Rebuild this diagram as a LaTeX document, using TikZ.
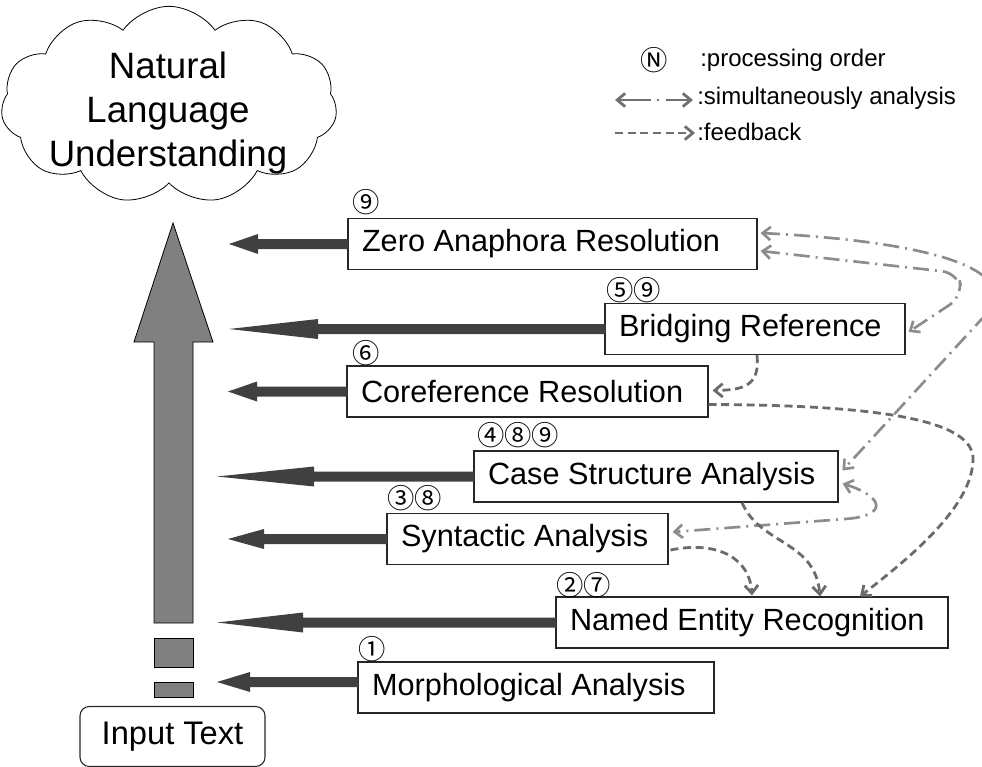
\documentclass[tikz,border=0pt]{standalone}
\usepackage{fontspec}
\setmainfont{Liberation Sans}
\newfontfamily\circf{Noto Sans CJK JP}
\usetikzlibrary{shapes.symbols,arrows.meta,calc}
\definecolor{fatc}{HTML}{404040}
\definecolor{bigc}{HTML}{808080}
\definecolor{ddc}{HTML}{8C8C8C}
\definecolor{fbc}{HTML}{6B6B6B}
\definecolor{lgc}{HTML}{707070}
\newcommand\fatarrow[3]{%
  \fill[fatc] ($(#1.west |- #2)+(1,-5)$) -- ($(#2)+(#3,-5)$) -- ($(#2)+(#3,-10)$) -- (#2)
   -- ($(#2)+(#3,10)$) -- ($(#2)+(#3,5)$) -- ($(#1.west |- #2)+(1,5)$) -- cycle;}
\begin{document}
\begin{tikzpicture}[x=0.75pt,y=-0.75pt,
  procbox/.style={draw=black!85, line width=0.8pt, fill=white, minimum height=38.25pt,
    inner xsep=10.5pt, inner ysep=0pt, font=\fontsize{23}{27}\selectfont},
  ordnum/.style={inner sep=0pt, anchor=west, font=\circf\fontsize{20.5}{22}\selectfont},
  tipb/.tip={Straight Barb[length=6pt,width=10pt]},
  simul/.style={draw=ddc, line width=2pt, dash pattern=on 12pt off 4.5pt on 1.5pt off 4.5pt, tipb-tipb},
  feedb/.style={draw=fbc, line width=2.1pt, dash pattern=on 6pt off 3.5pt, -tipb},
  legtext/.style={anchor=west, inner sep=0pt, font=\fontsize{18}{21}\selectfont},
  bigarrow/.style={fill=bigc, draw=black, line width=0.6pt},
]
\useasboundingbox (0,0) rectangle (982,767);
\clip (0,0) rectangle (982,767);

% cloud
\node[cloud, draw, line width=0.6pt, cloud puffs=11, cloud puff arc=110, aspect=1.69,
  minimum width=252pt, minimum height=148pt, inner sep=0pt] (cl) at (169,105) {};
\node[align=center, inner sep=0pt, font=\fontsize{27.5}{33}\selectfont] (nlu) at (168,113)
  {Natural\\Language\\Understanding};

% big upward arrow
\filldraw[bigarrow] (173,223) -- (213,342) -- (193,342) -- (193,623) -- (154,623) -- (154,342) -- (134,342) -- cycle;
\filldraw[bigarrow] (154,638) rectangle (193,667);
\filldraw[bigarrow] (154,682) rectangle (193,697);

% input text
\node[draw=black!85, line width=0.8pt, rounded corners=7pt, minimum width=138.75pt, minimum height=45pt,
  font=\fontsize{24.5}{28}\selectfont] (in) at (172.5,736.5) {Input Text};

% boxes
\node[procbox] (za) at (552.5,244) {\makebox[285.75pt][l]{Zero Anaphora Resolution}};
\node[procbox] (br) at (755,329) {\makebox[204pt][l]{Bridging Reference}};
\node[procbox] (co) at (527.5,391.5) {\makebox[249.75pt][l]{Coreference Resolution}};
\node[procbox] (ca) at (656,476.5) {\makebox[252pt][l]{Case Structure Analysis}};
\node[procbox] (sy) at (527.5,539) {\makebox[189.75pt][l]{Syntactic Analysis}};
\node[procbox] (ne) at (752,622.5) {\makebox[273pt][l]{Named Entity Recognition}};
\node[procbox] (mo) at (536,687.5) {\makebox[246pt][l]{Morphological Analysis}};

% order numbers
\node[ordnum] (n9) at (352,202) {⑨};
\node[ordnum] (n59) at (606,290) {⑤⑨};
\node[ordnum] (n6) at (352,353) {⑥};
\node[ordnum] (n489) at (477,435) {④⑧⑨};
\node[ordnum] (n38) at (387,498) {③⑧};
\node[ordnum] (n27) at (556,585) {②⑦};
\node[ordnum] (n1) at (358,649) {①};

% fat arrows to the left
\coordinate (tza) at (229,244);
\coordinate (tbr) at (229,329);
\coordinate (tco) at (228,391.5);
\coordinate (tca) at (217,476.5);
\coordinate (tsy) at (228,539);
\coordinate (tne) at (217,622.5);
\coordinate (tmo) at (217,682);
\fatarrow{za}{tza}{29}
\fatarrow{br}{tbr}{89}
\fatarrow{co}{tco}{29}
\fatarrow{ca}{tca}{97}
\fatarrow{sy}{tsy}{36}
\fatarrow{ne}{tne}{86}
\fatarrow{mo}{tmo}{33}

% simultaneous analysis (dash-dot)
\draw[simul] ($(za.east)+(3,-11)$) .. controls (900,240) and (1020,262) .. (990,310) -- ($(ca.east)+(4,-6)$);
\draw[simul, rounded corners=12pt] ($(za.east)+(3,7)$) -- (958,273) -- (963,296) -- ($(br.east)+(3,3)$);
\draw[simul] ($(ca.east)+(4,7)$) .. controls (885,497) and (888,516) .. (845,519) -- ($(sy.east)+(4,-7)$);

% feedback (dashed)
\draw[feedb] ($(br.south)+(2,0)$) .. controls (760,385) and (745,390) .. ($(co.east)+(4,-1)$);
\draw[feedb] ($(co.east)+(0,13)$) .. controls (880,405) and (975,420) .. (973,460)
   .. controls (972,510) and (900,565) .. ($(ne.north)+(108,0)$);
\draw[feedb] ($(ca.south)+(86,0)$) .. controls (760,545) and (815,540) .. ($(ne.north)+(68,0)$);
\draw[feedb] ($(sy.east)+(2,11)$) .. controls (720,540) and (750,560) .. ($(ne.north)+(0,-1)$);

% legend
\node[ordnum, anchor=center] (ln) at (654,60) {Ⓝ};
\node[legtext] (l1) at (700,60) {:processing order};
\coordinate (l2a) at (615,100);
\coordinate (l2b) at (693,100);
\draw[simul, draw=lgc, line width=2.1pt, dash pattern=on 24pt off 5pt on 1.5pt off 5pt] (l2a) -- (l2b);
\node[legtext] (l2) at (697,98) {:simultaneously analysis};
\coordinate (l3a) at (615,133);
\coordinate (l3b) at (695,133);
\draw[feedb, draw=lgc, line width=2.1pt] (l3a) -- (l3b);
\node[legtext] (l3) at (697,132) {:feedback};
\end{tikzpicture}
\end{document}
